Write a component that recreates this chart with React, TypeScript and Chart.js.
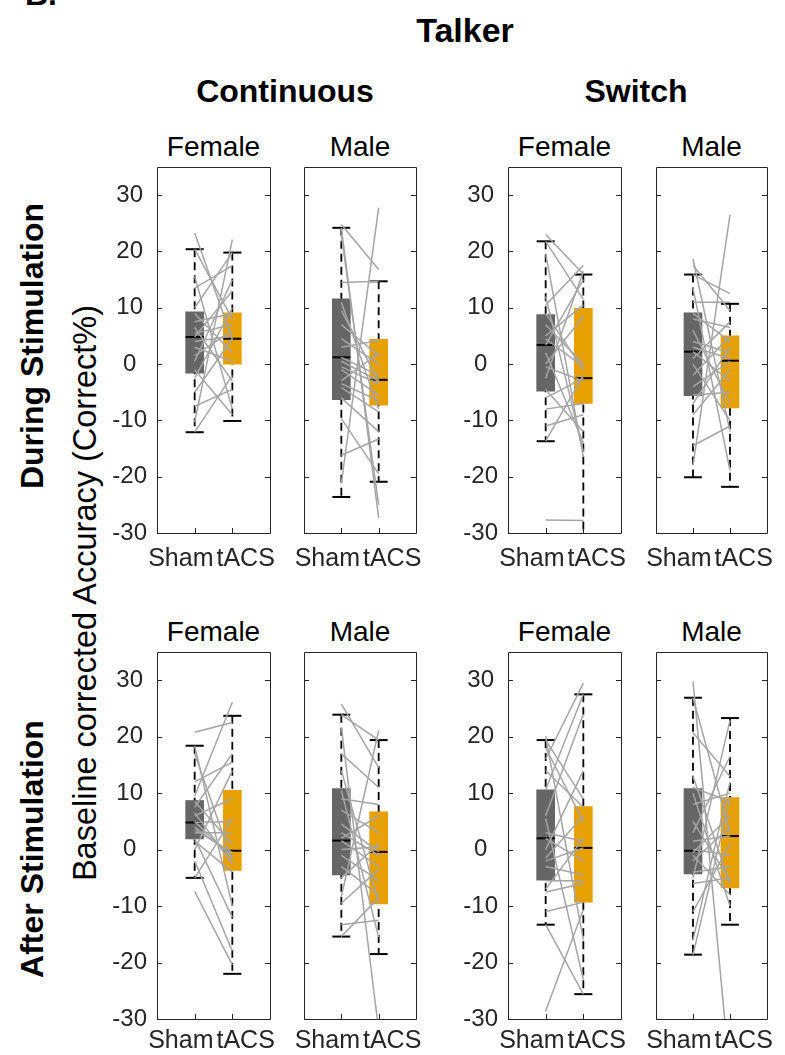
import React, { useEffect, useRef } from 'react';
import { Chart, registerables } from 'chart.js';

Chart.register(...registerables);

// ---------------- labels ----------------
const groupLabels = ['Sham', 'tACS'];
const yTickValues = [-30, -20, -10, 0, 10, 20, 30];
const yMin = -30;
const yMax = 35;
const phaseLabels = ['During Stimulation', 'After Stimulation'];
const talkerLabels = ['Continuous', 'Switch'];
const genderLabels = ['Female', 'Male'];
const yAxisTitle = 'Baseline corrected Accuracy (Correct%)';
const figureTitle = 'Talker';
const panelLetter = 'B.';

// ---------------- box statistics: [lower whisker, Q1, median, Q3, upper whisker] ----------------
const contFemaleDuringShamBox = [-12.1, -1.6, 4.8, 9.3, 20.4];
const contFemaleDuringTacsBox = [-10.1, 0.0, 4.5, 9.1, 19.8];
const contMaleDuringShamBox = [-23.6, -6.3, 1.2, 11.6, 24.2];
const contMaleDuringTacsBox = [-20.9, -7.3, -2.8, 4.4, 14.7];
const switchFemaleDuringShamBox = [-13.7, -4.8, 3.4, 8.8, 21.8];
const switchFemaleDuringTacsBox = [-31.0, -7.0, -2.5, 9.9, 15.9];
const switchMaleDuringShamBox = [-20.1, -5.6, 2.2, 9.1, 15.9];
const switchMaleDuringTacsBox = [-21.8, -7.8, 0.6, 5.0, 10.7];

const contFemaleAfterShamBox = [-5.0, 1.9, 4.8, 8.7, 18.4];
const contFemaleAfterTacsBox = [-22.0, -3.7, -0.2, 10.5, 23.7];
const contMaleAfterShamBox = [-15.4, -4.5, 1.6, 10.8, 23.9];
const contMaleAfterTacsBox = [-18.5, -9.6, -0.4, 6.7, 19.4];
const switchFemaleAfterShamBox = [-13.3, -5.4, 2.0, 10.6, 19.4];
const switchFemaleAfterTacsBox = [-25.6, -9.3, 0.3, 7.6, 27.5];
const switchMaleAfterShamBox = [-18.6, -4.3, -0.2, 10.8, 26.9];
const switchMaleAfterTacsBox = [-13.3, -6.8, 2.4, 9.2, 23.3];

// ---------------- paired subject values (Sham[i] -> tACS[i]) ----------------
const contFemaleDuringSham = [23.3, 20.4, 15.6, 13.5, 10.0, 9.0, 7.5, 6.5, 5.5, 4.8, 4.0, 3.0, 1.5, -1.0, -2.5, -5.0, -7.5, -10.3, -12.1, 0.5];
const contFemaleDuringTacs = [4.4, 8.0, -8.0, 17.5, 19.8, 2.0, 9.0, -3.0, 7.0, 13.0, 5.0, 0.5, 6.0, -9.0, 10.0, 4.5, -4.5, 22.1, -2.0, 15.0];

const contMaleDuringSham = [24.8, 24.2, 23.0, 14.5, 11.0, 9.5, 4.5, 3.0, 1.2, 0.5, -1.0, -3.0, -3.5, -4.2, -6.0, -9.7, -16.2, -21.2, 7.0, -0.5];
const contMaleDuringTacs = [16.8, -27.3, -25.0, 14.7, -8.0, -3.0, 0.0, 4.2, -2.0, -3.0, -5.5, 2.0, -6.5, -8.5, -12.0, -19.5, -13.3, 27.8, 1.5, -3.5];

const switchFemaleDuringSham = [23.0, 19.6, 21.8, 12.0, 10.5, 9.0, 7.0, 5.0, 4.5, 3.4, 2.0, 0.0, -0.5, -2.5, -4.5, -6.0, -8.0, -11.0, -13.7, -27.7];
const switchFemaleDuringTacs = [16.0, -16.5, 11.5, -15.5, 17.5, -1.0, 0.0, 10.5, -0.5, 15.0, -14.0, 8.5, -3.0, 16.5, -12.0, -2.5, -7.0, -9.0, -2.0, -27.8];

const switchMaleDuringSham = [-18.0, 18.7, 17.5, 15.9, 13.5, 11.0, 9.0, 8.0, 6.0, 4.0, 3.0, 2.2, 1.0, 0.0, -2.0, -4.0, -5.5, -7.0, -9.0, -14.5];
const switchMaleDuringTacs = [26.5, -12.0, 9.5, 12.5, -18.9, 11.0, 4.0, 6.5, -7.0, 2.0, 1.0, -3.0, 7.5, -10.0, 5.0, 0.5, -5.0, 3.0, -1.0, -11.0];

const contFemaleAfterSham = [20.8, 18.4, 17.0, 12.0, 9.5, 8.5, 7.5, 6.5, 6.0, 5.0, 4.8, 4.0, 3.5, 3.0, 2.0, 1.5, 0.0, -2.0, -5.0, -7.4];
const contFemaleAfterTacs = [22.5, -10.0, -2.0, 15.5, 26.1, 1.0, 17.0, -2.5, 9.0, -1.5, 5.0, -1.0, -0.5, 3.0, -12.0, -4.0, 14.0, -18.0, 5.5, -20.4];

const contMaleAfterSham = [25.8, 21.7, 23.9, 17.0, 14.0, 10.5, 9.0, 7.0, 3.0, 2.0, 1.6, 0.0, -1.0, -3.0, -5.0, -8.3, -13.3, -9.5, -15.4, 4.5];
const contMaleAfterTacs = [14.5, -32.0, 19.4, 11.0, -9.5, -15.5, 8.0, 3.0, -1.0, 6.0, -3.0, 0.5, -5.5, -8.0, 1.0, 21.1, -12.5, -3.5, -8.5, -0.4];

const switchFemaleAfterSham = [-28.6, 16.0, 20.1, 5.5, 19.4, 18.0, 10.6, 6.0, 3.0, 2.0, 0.0, -1.5, -2.0, -3.0, -5.5, -7.0, -7.5, -11.0, -13.3, 14.0];
const switchFemaleAfterTacs = [-10.6, 29.5, -16.0, -23.0, 9.0, 5.0, 27.5, 24.0, 1.5, -2.0, 14.0, 6.0, 0.3, -4.5, -5.5, 2.0, -6.0, -9.3, -25.6, 7.5];

const switchMaleAfterSham = [29.8, 26.9, 20.7, 13.0, 11.0, 10.0, 8.0, 5.0, 3.0, 1.5, 0.0, -0.5, -1.0, -2.0, -4.0, -5.0, -6.0, -11.0, -16.0, -18.6];
const switchMaleAfterTacs = [-40.0, 3.0, 13.0, -6.0, 8.5, -10.0, 10.0, -5.5, 16.5, 2.4, -1.0, 6.0, -8.0, 4.0, -3.0, 22.9, -5.0, 1.0, 12.0, 9.0];

// ---------------- styles & layout ----------------
const FONT = '"Liberation Sans", Arial, Helvetica, sans-serif';
const SHAM_COLOR = 'rgb(102,102,102)';
const TACS_COLOR = 'rgb(230,160,0)';
const PAIR_COLOR = 'rgb(165,165,165)';
const AXIS_COLOR = 'rgb(38,38,38)';
const BOX_PX = 18;
const HALF_W = 0.24;

const Y_AXIS_W = 70;
const PAD_T = 30;
const PAD_R = 16;
const X_AXIS_H = 45;

const colBounds = [
  [157, 270],
  [304, 416],
  [508, 621],
  [656, 767],
];
const rowBounds = [
  [167, 533],
  [652, 1019],
];
const rowLabelGap = [33, 29];
const rowGenderBaseline = [157, 642];

type PanelSpec = {
  phase: number;
  talker: number;
  gender: number;
  shamBox: number[];
  tacsBox: number[];
  sham: number[];
  tacs: number[];
};

const panels: PanelSpec[] = [
  { phase: 0, talker: 0, gender: 0, shamBox: contFemaleDuringShamBox, tacsBox: contFemaleDuringTacsBox, sham: contFemaleDuringSham, tacs: contFemaleDuringTacs },
  { phase: 0, talker: 0, gender: 1, shamBox: contMaleDuringShamBox, tacsBox: contMaleDuringTacsBox, sham: contMaleDuringSham, tacs: contMaleDuringTacs },
  { phase: 0, talker: 1, gender: 0, shamBox: switchFemaleDuringShamBox, tacsBox: switchFemaleDuringTacsBox, sham: switchFemaleDuringSham, tacs: switchFemaleDuringTacs },
  { phase: 0, talker: 1, gender: 1, shamBox: switchMaleDuringShamBox, tacsBox: switchMaleDuringTacsBox, sham: switchMaleDuringSham, tacs: switchMaleDuringTacs },
  { phase: 1, talker: 0, gender: 0, shamBox: contFemaleAfterShamBox, tacsBox: contFemaleAfterTacsBox, sham: contFemaleAfterSham, tacs: contFemaleAfterTacs },
  { phase: 1, talker: 0, gender: 1, shamBox: contMaleAfterShamBox, tacsBox: contMaleAfterTacsBox, sham: contMaleAfterSham, tacs: contMaleAfterTacs },
  { phase: 1, talker: 1, gender: 0, shamBox: switchFemaleAfterShamBox, tacsBox: switchFemaleAfterTacsBox, sham: switchFemaleAfterSham, tacs: switchFemaleAfterTacs },
  { phase: 1, talker: 1, gender: 1, shamBox: switchMaleAfterShamBox, tacsBox: switchMaleAfterTacsBox, sham: switchMaleAfterSham, tacs: switchMaleAfterTacs },
];

const framePlugin = {
  id: 'matlabFrame',
  afterDatasetsDraw(chart: any) {
    const { ctx, chartArea, scales } = chart;
    const { left, right, top, bottom } = chartArea;
    const opts = chart.options.plugins.matlabFrame || {};
    ctx.save();
    ctx.strokeStyle = AXIS_COLOR;
    ctx.lineWidth = 1;
    ctx.beginPath();
    ctx.rect(Math.round(left) + 0.5, Math.round(top) + 0.5, Math.round(right - left), Math.round(bottom - top));
    ctx.stroke();
    ctx.beginPath();
    yTickValues.forEach((v) => {
      const y = Math.round(scales.y.getPixelForValue(v)) + 0.5;
      ctx.moveTo(left, y);
      ctx.lineTo(left + 5, y);
      ctx.moveTo(right, y);
      ctx.lineTo(right - 5, y);
    });
    [1, 2].forEach((v) => {
      const x = Math.round(scales.x.getPixelForValue(v)) + 0.5;
      ctx.moveTo(x, bottom);
      ctx.lineTo(x, bottom - 5);
    });
    ctx.stroke();
    // category labels
    ctx.fillStyle = AXIS_COLOR;
    ctx.font = `25px ${FONT}`;
    ctx.textBaseline = 'alphabetic';
    const mid = scales.x.getPixelForValue(1.5);
    const yb = bottom + (opts.labelGap || 32);
    ctx.textAlign = 'right';
    ctx.fillText(groupLabels[0], mid, yb);
    ctx.textAlign = 'left';
    ctx.fillText(groupLabels[1], mid + 3, yb);
    ctx.restore();
  },
};

function BoxPanel({ spec }: { spec: PanelSpec }) {
  const ref = useRef<HTMLCanvasElement>(null);
  const col = spec.talker * 2 + spec.gender;
  const [pl, pr] = colBounds[col];
  const [pt, pb] = rowBounds[spec.phase];
  const W = pr - pl;
  const H = pb - pt;
  const cw = Y_AXIS_W + W + PAD_R;
  const ch = PAD_T + H + X_AXIS_H;
  const showY = spec.gender === 0;

  useEffect(() => {
    if (!ref.current) return;
    const line = (pts: { x: number; y: number }[], color: string, width: number, order: number, dash?: number[]) => ({
      type: 'scatter',
      data: pts,
      showLine: true,
      borderColor: color,
      borderWidth: width,
      borderDash: dash || [],
      pointRadius: 0,
      pointHoverRadius: 0,
      fill: false,
      tension: 0,
      order,
    });
    const datasets: any[] = [];
    spec.sham.forEach((s, i) => {
      datasets.push(line([{ x: 1, y: s }, { x: 2, y: spec.tacs[i] }], PAIR_COLOR, 1.5, 0));
    });
    [spec.shamBox, spec.tacsBox].forEach((b, gi) => {
      const x = gi + 1;
      datasets.push(line([{ x, y: b[4] }, { x, y: b[0] }], '#000', 1.8, 3, [8, 5]));
      datasets.push(line([{ x: x - HALF_W, y: b[0] }, { x: x + HALF_W, y: b[0] }], '#000', 2, 1));
      datasets.push(line([{ x: x - HALF_W, y: b[4] }, { x: x + HALF_W, y: b[4] }], '#000', 2, 1));
      datasets.push(line([{ x: x - HALF_W, y: b[2] }, { x: x + HALF_W, y: b[2] }], '#000', 2, 1));
    });
    datasets.push({
      type: 'bar',
      data: [
        { x: 1, y: [spec.shamBox[1], spec.shamBox[3]] },
        { x: 2, y: [spec.tacsBox[1], spec.tacsBox[3]] },
      ],
      backgroundColor: [SHAM_COLOR, TACS_COLOR],
      borderWidth: 0,
      barThickness: BOX_PX,
      order: 2,
    });

    const chart = new Chart(ref.current, {
      type: 'scatter',
      data: { datasets },
      options: {
        animation: false,
        responsive: false,
        maintainAspectRatio: false,
        devicePixelRatio: 1,
        events: [],
        layout: { padding: { top: PAD_T, right: PAD_R, left: 0, bottom: 0 } },
        plugins: {
          legend: { display: false },
          tooltip: { enabled: false },
          matlabFrame: { labelGap: rowLabelGap[spec.phase] },
        } as any,
        scales: {
          x: {
            type: 'linear',
            min: 0,
            max: 3,
            offset: false,
            grid: { display: false, drawTicks: false },
            border: { display: false },
            ticks: { display: false },
            afterFit: (s: any) => {
              s.height = X_AXIS_H;
            },
          },
          y: {
            type: 'linear',
            min: yMin,
            max: yMax,
            grid: { display: false, drawTicks: false },
            border: { display: false },
            ticks: {
              display: showY,
              color: AXIS_COLOR,
              font: { family: FONT, size: 24 },
              padding: 10,
              crossAlign: 'center',
            },
            afterBuildTicks: (s: any) => {
              s.ticks = yTickValues.map((v) => ({ value: v }));
            },
            afterFit: (s: any) => {
              s.width = Y_AXIS_W;
            },
          },
        },
      } as any,
      plugins: [framePlugin],
    } as any);
    return () => chart.destroy();
  }, []);

  return (
    <canvas
      ref={ref}
      width={cw}
      height={ch}
      style={{ position: 'absolute', left: pl - Y_AXIS_W, top: pt - PAD_T, width: cw, height: ch, display: 'block' }}
    />
  );
}

function Label({ text, cx, baseline, size, bold }: { text: string; cx: number; baseline: number; size: number; bold?: boolean }) {
  return (
    <div
      style={{
        position: 'absolute',
        left: cx - 300,
        width: 600,
        top: baseline - 0.8465 * size,
        fontSize: size,
        lineHeight: `${size}px`,
        fontWeight: bold ? 700 : 400,
        textAlign: 'center',
        fontFamily: FONT,
        whiteSpace: 'nowrap',
        color: '#000',
      }}
    >
      {text}
    </div>
  );
}

function VLabel({ text, cx, cy, size, bold }: { text: string; cx: number; cy: number; size: number; bold?: boolean }) {
  return (
    <div
      style={{
        position: 'absolute',
        left: cx,
        top: cy,
        transform: 'translate(-50%, -50%) rotate(-90deg)',
        fontSize: size,
        lineHeight: `${size}px`,
        fontWeight: bold ? 700 : 400,
        fontFamily: FONT,
        whiteSpace: 'nowrap',
        color: '#000',
      }}
    >
      {text}
    </div>
  );
}

export default function App() {
  return (
    <div style={{ position: 'absolute', left: 0, top: 0, width: 785, height: 1055, overflow: 'hidden', background: '#fff' }}>
      <div
        style={{
          position: 'absolute',
          left: 25,
          top: 5 - 0.8465 * 32,
          fontSize: 32,
          lineHeight: '32px',
          fontWeight: 700,
          fontFamily: FONT,
        }}
      >
        {panelLetter}
      </div>
      <Label text={figureTitle} cx={465} baseline={42} size={34} bold />
      <Label text={talkerLabels[0]} cx={285} baseline={102} size={32} bold />
      <Label text={talkerLabels[1]} cx={636} baseline={102} size={32} bold />
      {rowGenderBaseline.map((bl, r) =>
        colBounds.map((c, ci) => (
          <Label key={`g${r}-${ci}`} text={genderLabels[ci % 2]} cx={(c[0] + c[1]) / 2} baseline={bl} size={28} />
        ))
      )}
      <VLabel text={phaseLabels[0]} cx={32} cy={346} size={32} bold />
      <VLabel text={phaseLabels[1]} cx={32} cy={849} size={32} bold />
      <VLabel text={yAxisTitle} cx={85} cy={593} size={32.5} />
      {panels.map((p, i) => (
        <BoxPanel key={i} spec={p} />
      ))}
    </div>
  );
}
